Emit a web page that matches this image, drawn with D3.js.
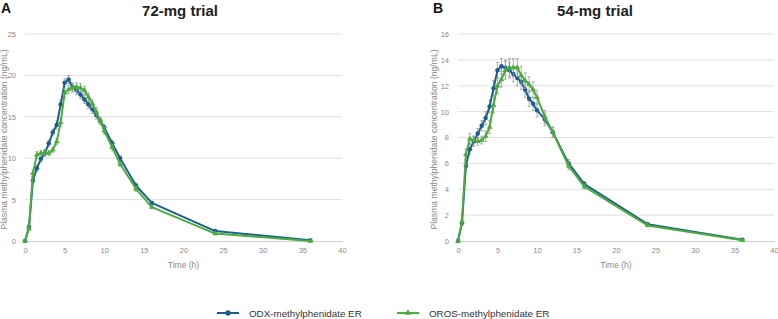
<!DOCTYPE html>
<html>
<head>
<meta charset="utf-8">
<script src="https://cdn.jsdelivr.net/npm/d3@7"></script>
<style>
  body { margin: 0; background: #fff; }
  svg { display: block; font-family: "Liberation Sans", Arial, sans-serif; }
</style>
</head>
<body>
<div id="chart"></div>
<script>
// sampling times (h)
var times = [0, 0.5, 1, 1.5, 2, 2.5, 3, 3.5, 4, 4.5, 5, 5.5, 6, 6.5, 7, 7.5, 8, 8.5, 9, 9.5, 10, 11, 12, 14, 16, 24, 36];

// 72-mg trial
var odx72 = [0, 1.7, 7.3, 8.8, 9.9, 10.6, 11.8, 13.1, 14.0, 16.5, 19.1, 19.5, 18.6, 18.2, 17.7, 17.1, 16.5, 15.9, 15.2, 14.5, 13.7, 11.8, 10.0, 6.7, 4.6, 1.2, 0.1];
var odx72Err = [0, 0.2, 0.4, 0.4, 0.4, 0.4, 0.4, 0.4, 0.5, 0.5, 0.5, 0.5, 0.5, 0.5, 0.5, 0.5, 0.5, 0.5, 0.5, 0.4, 0.4, 0.4, 0.3, 0.3, 0.2, 0.1, 0.05];
var oros72 = [0, 1.5, 8.2, 10.4, 10.6, 10.7, 10.6, 11.0, 12.0, 14.3, 17.9, 18.3, 18.5, 18.6, 18.5, 18.2, 17.4, 16.6, 15.6, 14.5, 13.3, 11.3, 9.3, 6.3, 4.1, 0.9, 0.0];
var oros72Err = [0, 0.2, 0.4, 0.4, 0.3, 0.3, 0.3, 0.3, 0.4, 0.5, 0.5, 0.5, 0.5, 0.5, 0.5, 0.5, 0.5, 0.5, 0.5, 0.4, 0.4, 0.4, 0.3, 0.3, 0.2, 0.1, 0.05];

// 54-mg trial
var odx54 = [0, 1.4, 5.8, 7.1, 7.7, 8.3, 8.9, 9.5, 10.4, 11.8, 13.2, 13.5, 13.4, 13.2, 12.9, 12.6, 12.3, 11.7, 11.0, 10.6, 10.1, 9.4, 8.4, 6.0, 4.4, 1.3, 0.1];
var odx54Err = [0, 0.2, 0.4, 0.4, 0.4, 0.4, 0.4, 0.5, 0.5, 0.6, 0.6, 0.6, 0.6, 0.6, 0.6, 0.6, 0.6, 0.6, 0.6, 0.5, 0.5, 0.5, 0.4, 0.3, 0.2, 0.1, 0.05];
var oros54 = [0, 1.5, 6.7, 7.9, 7.8, 7.7, 7.8, 8.1, 8.8, 10.5, 12.0, 12.5, 13.2, 13.4, 13.4, 13.4, 12.8, 12.4, 12.1, 11.7, 11.1, 9.6, 8.4, 5.8, 4.2, 1.2, 0.05];
var oros54Err = [0, 0.2, 0.4, 0.4, 0.3, 0.3, 0.3, 0.4, 0.5, 0.6, 0.6, 0.6, 0.7, 0.7, 0.7, 0.7, 0.7, 0.6, 0.6, 0.6, 0.5, 0.5, 0.4, 0.3, 0.2, 0.1, 0.05];

var xTicks = [0, 5, 10, 15, 20, 25, 30, 35, 40];
var yTicks72 = [0, 5, 10, 15, 20, 25];
var yTicks54 = [0, 2, 4, 6, 8, 10, 12, 14, 16];

var seriesNames = ['ODX-methylphenidate ER', 'OROS-methylphenidate ER'];
var blue = '#1c5f8e';
var green = '#4aad3a';

var width = 778, height = 319;
var svg = d3.select('#chart').append('svg')
  .attr('width', width)
  .attr('height', height);

function drawPanel(opt) {
  var x = d3.scaleLinear().domain([0, 40]).range([opt.x0, opt.x1]);
  var y = d3.scaleLinear().domain([0, opt.yMax]).range([241, 34]);
  var g = svg.append('g');

  // gridlines
  g.selectAll('.grid').data(opt.yTicks.slice(1)).enter().append('line')
    .attr('x1', x(0)).attr('x2', x(40))
    .attr('y1', function(d) { return y(d); })
    .attr('y2', function(d) { return y(d); })
    .attr('stroke', '#e0e0e0')
    .attr('stroke-width', 1);

  // x axis
  var xAxis = g.append('g')
    .attr('transform', 'translate(0,' + y(0) + ')')
    .call(d3.axisBottom(x).tickValues(xTicks).tickSize(0).tickPadding(7));
  xAxis.select('.domain').attr('stroke', '#d0d0d0');
  xAxis.selectAll('text').attr('fill', '#8a8a8a').style('font-size', '7.5px');

  // y axis
  var yAxis = g.append('g')
    .attr('transform', 'translate(' + x(0) + ',0)')
    .call(d3.axisLeft(y).tickValues(opt.yTicks).tickSize(0).tickPadding(9));
  yAxis.select('.domain').remove();
  yAxis.selectAll('text').attr('fill', '#8a8a8a').style('font-size', '7.5px');

  // axis titles
  g.append('text')
    .attr('x', (x(0) + x(40)) / 2)
    .attr('y', 268)
    .attr('text-anchor', 'middle')
    .attr('fill', '#8a8a8a')
    .style('font-size', '8.5px')
    .text('Time (h)');

  g.append('text')
    .attr('transform', 'translate(' + opt.yLabelX + ',' + ((y(0) + y(opt.yMax)) / 2 + 2) + ') rotate(-90)')
    .attr('text-anchor', 'middle')
    .attr('fill', '#8a8a8a')
    .style('font-size', '8.6px')
    .text('Plasma methylphenidate concentration (ng/mL)');

  // panel title and letter
  g.append('text')
    .attr('x', opt.titleX)
    .attr('y', 16)
    .attr('text-anchor', 'middle')
    .attr('fill', '#222')
    .style('font-size', '15px')
    .style('font-weight', 'bold')
    .text(opt.title);

  g.append('text')
    .attr('x', opt.letterX)
    .attr('y', 13)
    .attr('fill', '#111')
    .style('font-size', '14px')
    .style('font-weight', 'bold')
    .text(opt.letter);

  var line = d3.line()
    .x(function(d) { return x(d.t); })
    .y(function(d) { return y(d.v); });

  opt.series.forEach(function(s) {
    var pts = times.map(function(t, i) { return { t: t, v: s.values[i], e: s.err[i] }; });

    // error bars
    var eb = g.append('g').attr('stroke', '#9a9a9a').attr('stroke-width', 0.8);
    pts.forEach(function(p) {
      if (!p.e) return;
      var cx = x(p.t);
      eb.append('line').attr('x1', cx).attr('x2', cx).attr('y1', y(p.v - p.e)).attr('y2', y(p.v + p.e));
      eb.append('line').attr('x1', cx - 1.5).attr('x2', cx + 1.5).attr('y1', y(p.v + p.e)).attr('y2', y(p.v + p.e));
      eb.append('line').attr('x1', cx - 1.5).attr('x2', cx + 1.5).attr('y1', y(p.v - p.e)).attr('y2', y(p.v - p.e));
    });

    g.append('path')
      .datum(pts)
      .attr('d', line)
      .attr('fill', 'none')
      .attr('stroke', s.color)
      .attr('stroke-width', 2)
      .attr('stroke-linejoin', 'round');

    g.selectAll(null).data(pts).enter().append('path')
      .attr('transform', function(d) { return 'translate(' + x(d.t) + ',' + y(d.v) + ')'; })
      .attr('d', d3.symbol().type(s.symbol).size(s.symbol === d3.symbolCircle ? 16 : 14))
      .attr('fill', s.color);
  });
}

drawPanel({
  x0: 25, x1: 342, yMax: 25, yTicks: yTicks72,
  title: '72-mg trial', titleX: 180, letter: 'A', letterX: 1, yLabelX: 7,
  series: [
    { values: odx72, err: odx72Err, color: blue, symbol: d3.symbolCircle },
    { values: oros72, err: oros72Err, color: green, symbol: d3.symbolTriangle }
  ]
});

drawPanel({
  x0: 458, x1: 774, yMax: 16, yTicks: yTicks54,
  title: '54-mg trial', titleX: 595, letter: 'B', letterX: 433, yLabelX: 437,
  series: [
    { values: odx54, err: odx54Err, color: blue, symbol: d3.symbolCircle },
    { values: oros54, err: oros54Err, color: green, symbol: d3.symbolTriangle }
  ]
});

// legend
var legendItems = [
  { name: seriesNames[0], color: blue, symbol: d3.symbolCircle, x: 217 },
  { name: seriesNames[1], color: green, symbol: d3.symbolTriangle, x: 397 }
];
var lg = svg.append('g');
legendItems.forEach(function(it) {
  lg.append('line')
    .attr('x1', it.x).attr('x2', it.x + 22)
    .attr('y1', 313).attr('y2', 313)
    .attr('stroke', it.color).attr('stroke-width', 2);
  lg.append('path')
    .attr('transform', 'translate(' + (it.x + 11) + ',313)')
    .attr('d', d3.symbol().type(it.symbol).size(it.symbol === d3.symbolCircle ? 22 : 18))
    .attr('fill', it.color);
  lg.append('text')
    .attr('x', it.x + 32)
    .attr('y', 316.5)
    .attr('fill', '#333')
    .style('font-size', '9.8px')
    .text(it.name);
});
</script>
</body>
</html>
